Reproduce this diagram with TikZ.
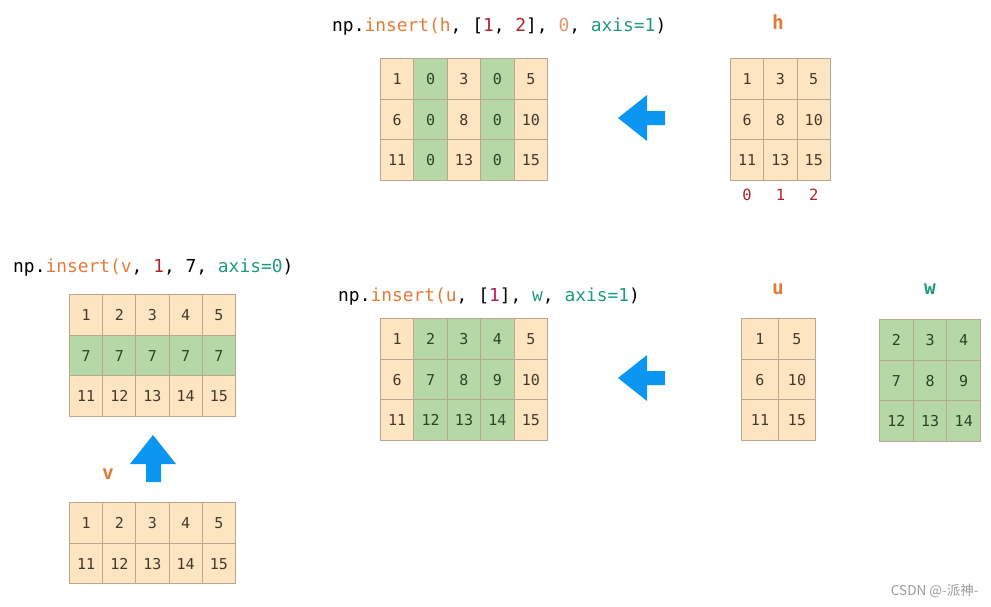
\documentclass[tikz,border=0pt]{standalone}
\usepackage{fontspec}
\usetikzlibrary{matrix}

\newfontfamily\codefont{DejaVu Sans Mono}
\newfontfamily\cjk{Noto Sans CJK SC}

\definecolor{peach}{HTML}{FDE5C1}
\definecolor{leaf}{HTML}{B5D8A6}
\definecolor{cellline}{HTML}{B9A88E}
\definecolor{celltext}{HTML}{45382A}
\definecolor{leaftext}{HTML}{2A4426}
\definecolor{ochre}{HTML}{E37B38}
\definecolor{crimson}{HTML}{B0232A}
\definecolor{pinkred}{HTML}{C2185B}
\definecolor{axisteal}{HTML}{1E9A80}
\definecolor{arrowblue}{HTML}{0B96F2}

\tikzset{
  cell/.style={draw=cellline, line width=1pt, fill=peach, text=celltext,
    minimum height=40.7pt, text height=11pt, text depth=0pt, anchor=center,
    inner sep=0pt, outer sep=0pt,
    font=\codefont\fontsize{15}{17}\selectfont},
  gcell/.style={fill=leaf, text=leaftext},
  grid/.style={matrix of nodes, anchor=north west, inner sep=0pt, outer sep=0pt,
    column sep=-1pt, row sep=-1pt, nodes={cell, minimum width=#1}},
  code/.style={font=\codefont\fontsize{17.9}{20}\selectfont, anchor=base west, inner sep=0pt},
  varname/.style={font=\codefont\bfseries\fontsize{19.5}{22}\selectfont, inner sep=0pt},
}

\newcommand{\bluearrow}[1]{%
  \fill[arrowblue, shift={#1}] (0,0) -- (29,-23) -- (29,-7) -- (47,-7) -- (47,7) -- (29,7) -- (29,23) -- cycle;}

\begin{document}
\begin{tikzpicture}[x=1pt,y=-1pt]
        \useasboundingbox (0,0) rectangle (991,606);

        % insert zero columns
        \node[code] (code1) at (332,31.5) {np.\textcolor{ochre}{insert(h}, [\textcolor{crimson}{1}, \textcolor{crimson}{2}], \textcolor{ochre!80}{0}, \textcolor{axisteal}{axis=1})};
        \matrix[grid=33.4pt] (hres) at (380,58) {
            1 & |[gcell]| 0 & 3 & |[gcell]| 0 & 5 \\
            6 & |[gcell]| 0 & 8 & |[gcell]| 0 & 10 \\
            11 & |[gcell]| 0 & 13 & |[gcell]| 0 & 15 \\
        };
        \bluearrow{(618,118)}
        \node[varname, text=ochre] (hname) at (778,22) {h};
        \matrix[grid=33.3pt] (h) at (730,58) {
            1 & 3 & 5 \\
            6 & 8 & 10 \\
            11 & 13 & 15 \\
        };
        \foreach \i [count=\c] in {0,1,2}
            \node[font=\codefont\fontsize{15.5}{17}\selectfont, text=crimson] (hidx\i) at (h-3-\c |- 0,195) {\i};

        % insert a row of sevens
        \node[code] (code2) at (13,272.7) {np.\textcolor{ochre}{insert(v}, \textcolor{crimson}{1}, 7, \textcolor{axisteal}{axis=0})};
        \matrix[grid=33.2pt] (vres) at (69,294) {
            1 & 2 & 3 & 4 & 5 \\
            |[gcell]| 7 & |[gcell]| 7 & |[gcell]| 7 & |[gcell]| 7 & |[gcell]| 7 \\
            11 & 12 & 13 & 14 & 15 \\
        };
        \fill[arrowblue] (153,435) -- (176,464) -- (161,464) -- (161,482) -- (146,482) -- (146,464) -- (130,464) -- cycle;
        \node[varname, text=ochre] (vname) at (108,474) {v};
        \matrix[grid=33.2pt] (v) at (69,502) {
            1 & 2 & 3 & 4 & 5 \\
            11 & 12 & 13 & 14 & 15 \\
        };

        % insert the columns of w
        \node[code] (code3) at (338,301.7) {np.\textcolor{ochre}{insert(u}, [\textcolor{pinkred}{1}], \textcolor{axisteal}{w}, \textcolor{axisteal}{axis=1})};
        \matrix[grid=33.4pt] (ures) at (380,318) {
            1 & |[gcell]| 2 & |[gcell]| 3 & |[gcell]| 4 & 5 \\
            6 & |[gcell]| 7 & |[gcell]| 8 & |[gcell]| 9 & 10 \\
            11 & |[gcell]| 12 & |[gcell]| 13 & |[gcell]| 14 & 15 \\
        };
        \bluearrow{(618,378)}
        \node[varname, text=ochre] (uname) at (778,289) {u};
        \matrix[grid=37pt] (u) at (741,318) {
            1 & 5 \\
            6 & 10 \\
            11 & 15 \\
        };
        \node[varname, text=axisteal] (wname) at (930,289) {w};
        \matrix[grid=33.7pt, nodes={gcell}] (w) at (879,319) {
            2 & 3 & 4 \\
            7 & 8 & 9 \\
            12 & 13 & 14 \\
        };

        \node[font=\cjk\fontsize{13.5}{15}\selectfont, text=black!40, anchor=east] (mark) at (982,591) {CSDN @-派神-};

    \end{tikzpicture}
\end{document}
